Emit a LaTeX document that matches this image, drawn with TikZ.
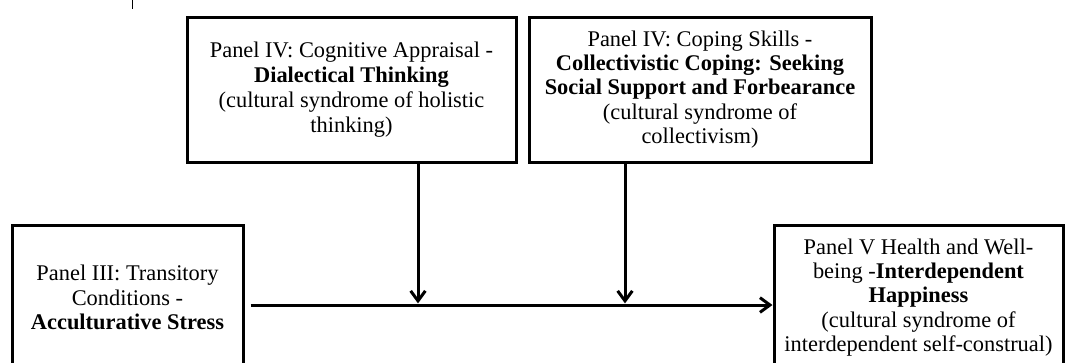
\documentclass[tikz,border=0pt]{standalone}
\usepackage{fontspec}
\setmainfont{Liberation Serif}
\usetikzlibrary{arrows.meta,calc}
\begin{document}
\begin{tikzpicture}[x=0.75pt,y=-0.75pt,
  box/.style={draw,line width=2.25pt,align=center,inner sep=0pt,
    font=\fontsize{16.8}{18.2}\selectfont,minimum height=108.75pt},
  wide/.style={font=\fontsize{16.8}{18.6}\selectfont},
  arr/.style={line width=2.25pt,
    -{Straight Barb[length=7.5pt,width=11pt]}},
  tick/.style={line width=0.75pt}
]
\clip (0,0) rectangle (1065,362);
\draw[tick] (132,0) -- (132,9);

\node[box,wide,minimum width=246.75pt] (A) at (351.5,89.5)
  {Panel IV: Cognitive Appraisal -\\ \textbf{Dialectical Thinking}\\
   (cultural syndrome of holistic\\ thinking)};
\node[box,minimum width=256.5pt] (B) at (700,89.5)
  {Panel IV: Coping Skills -\\ \textbf{Collectivistic Coping: Seeking}\\
   \textbf{Social Support and Forbearance}\\ (cultural syndrome of\\ collectivism)};
\node[box,wide,minimum width=173.25pt] (C) at (127.5,297.5)
  {Panel III: Transitory\\ Conditions -\\ \textbf{Acculturative Stress}};
\node[box,minimum width=216.75pt] (D) at (918.5,297.5)
  {Panel V Health and Well-\\ being -\textbf{Interdependent}\\ \textbf{Happiness}\\
   (cultural syndrome of\\ interdependent self-construal)};

\coordinate (hs) at ([shift={(6,7.5)}]C.east);
\coordinate (he) at ([shift={(0,7.5)}]D.west);
\draw[arr] (hs) -- (he);
\coordinate (a1) at ([shift={(66.5,0)}]A.south);
\coordinate (b1) at ([shift={(-75,0)}]B.south);
\draw[arr,shorten >=1.2pt] (a1) -- (a1 |- hs);
\draw[arr,shorten >=1.2pt] (b1) -- (b1 |- hs);
\end{tikzpicture}
\end{document}
